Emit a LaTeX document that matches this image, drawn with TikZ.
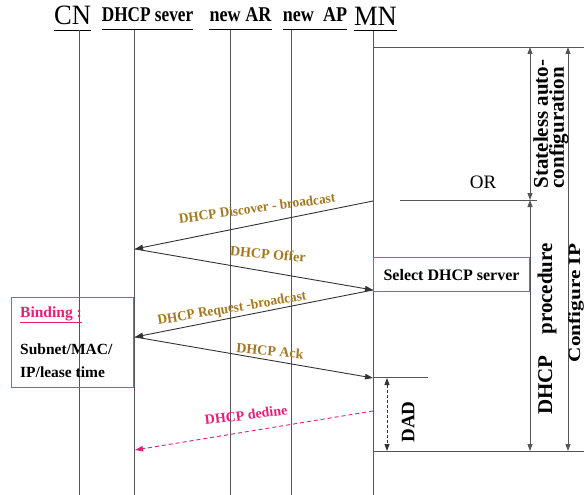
\documentclass[tikz,border=0pt]{standalone}
\usepackage{fontspec}
\setmainfont{Liberation Serif}[BoldFont={Liberation Serif Bold}]
\usepackage{graphicx}
\usetikzlibrary{arrows.meta,calc}

\definecolor{lblbrown}{RGB}{165,120,30}
\definecolor{hotpink}{RGB}{236,28,118}
\definecolor{boxpink}{RGB}{228,60,140}
\definecolor{lifegray}{RGB}{85,85,85}

% horizontally condensed text
\newcommand\squeeze[2]{\scalebox{#1}[1]{#2}}

\begin{document}
\begin{tikzpicture}[x=1pt,y=-1pt,
  lifeline/.style={draw=lifegray, line width=0.9pt},
  rule/.style={draw=lifegray, line width=0.9pt},
  msg/.style={draw=black!80, line width=0.9pt, -{Triangle[length=8pt,width=5.5pt]}},
  msglabel/.style={text=lblbrown, font=\fontsize{14}{15}\selectfont\bfseries, inner sep=0pt},
  header/.style={font=\fontsize{21}{22}\selectfont\bfseries, anchor=base, inner sep=0pt},
  bigheader/.style={font=\fontsize{28}{30}\selectfont, anchor=base, inner sep=0pt},
  vtext/.style={font=\fontsize{21}{16}\selectfont\bfseries, rotate=90, inner sep=0pt},
  pinkbox/.style={draw=boxpink, line width=1.1pt},
  span/.style={draw=lifegray, line width=0.9pt, {Triangle[length=7pt,width=5pt]}-{Triangle[length=7pt,width=5pt]}}
]
\useasboundingbox (0,0) rectangle (584,495);

% ---- headers ----
\node[bigheader] (cn)   at (72.5,25)  {\squeeze{0.95}{CN}};
\node[header]    (dhcp) at (147.5,22) {\squeeze{0.82}{DHCP sever}};
\node[header]    (ar)   at (240.5,22) {\squeeze{0.86}{new AR}};
\node[header]    (ap)   at (315,22)   {\squeeze{0.86}{new\ \ AP}};
\node[bigheader] (mn)   at (375.5,26) {\squeeze{0.95}{MN}};

\foreach \h/\d in {cn/5, dhcp/7.5, ar/7.5, ap/7.5, mn/4.5}
  \draw[line width=0.9pt] ($(\h.base west)+(0,\d)$) -- ($(\h.base east)+(0,\d)$);

% ---- lifelines ----
\coordinate (cnT) at (79,30);   \coordinate (cnB) at (79,495);
\coordinate (svT) at (134,30);  \coordinate (svB) at (134,495);
\coordinate (arT) at (230,30);  \coordinate (arB) at (230,495);
\coordinate (apT) at (291,30);  \coordinate (apB) at (291,495);
\coordinate (mnT) at (373,31);  \coordinate (mnB) at (373,495);
\foreach \l in {cn,sv,ar,ap,mn}
  \draw[lifeline] (\l T) -- (\l B);

% ---- right-hand brackets ----
\coordinate (topL) at (373,47);  \coordinate (topR) at (584,47);
\coordinate (botL) at (373,451); \coordinate (botR) at (584,451);
\coordinate (orL)  at (400,200); \coordinate (orR)  at (537,200);
\draw[rule] (topL) -- (topR);
\draw[rule] (botL) -- (botR);
\draw[rule] (orL) -- (orR);

\coordinate (slT) at (530,47);  \coordinate (slB) at (530,200);
\coordinate (dpT) at (530,200); \coordinate (dpB) at (530,451);
\coordinate (ciT) at (568,47);  \coordinate (ciB) at (568,451);
\draw[span] (slT) -- (slB);
\draw[span] (dpT) -- (dpB);
\draw[span] (ciT) -- (ciB);

\node[font=\fontsize{19}{21}\selectfont, inner sep=0pt] (or) at (483,182) {OR};
\node[vtext, align=left] (stateless) at (551,124) {Stateless auto-\\configuration};
\node[vtext] (dhcpproc) at (547,329) {DHCP\quad procedure};
\node[vtext, font=\fontsize{17}{19}\selectfont\bfseries] (confip) at (576,303) {\scalebox{1.25}[1]{Configure IP}};

% ---- boxes ----
\node[pinkbox, minimum width=156pt, minimum height=34pt, anchor=north west,
      font=\fontsize{16}{18}\selectfont\bfseries] (select) at (373,257) {Select DHCP server};

\node[pinkbox, minimum width=122pt, minimum height=90pt, anchor=north west] (binding) at (11,297) {};
\node[anchor=west, inner sep=0pt, text=hotpink, font=\fontsize{15.5}{17}\selectfont\bfseries]
  (bindtitle) at (20,315) {\underline{Binding :}};
\node[anchor=west, inner sep=0pt, align=left, font=\fontsize{15.5}{23}\selectfont\bfseries]
  (bindtext) at (20,361) {Subnet/MAC/\\IP/lease time};

% ---- messages ----
\coordinate (m1) at (373,201); \coordinate (s1) at (135,249);
\coordinate (m2) at (373,290); \coordinate (s2) at (135,337);
\coordinate (m3) at (373,378);
\coordinate (m4) at (373,411); \coordinate (s4) at (135,450);

\draw[msg] (m1) -- (s1);
\draw[msg] (s1) -- (m2);
\draw[msg] (m2) -- (s2);
\draw[msg] (s2) -- (m3);
\draw[msg, draw=hotpink, dashed, dash pattern=on 4pt off 3pt] (m4) -- (s4);

\node[msglabel, rotate=7.8]  (ldisc) at (257,208) {\squeeze{0.95}{DHCP Discover - broadcast}};
\node[msglabel, rotate=-5]   (loff)  at (268,254) {DHCP Offer};
\node[msglabel, rotate=9.4]  (lreq)  at (232,309) {\squeeze{0.95}{DHCP Request -broadcast}};
\node[msglabel, rotate=-5]   (lack)  at (270,351) {DHCP Ack};
\node[msglabel, rotate=7, text=hotpink] (ldec) at (246,415) {DHCP dedine};

% ---- duplicate address detection ----
\coordinate (dadL) at (373,377); \coordinate (dadR) at (428,377);
\draw[rule] (dadL) -- (dadR);
\coordinate (dadT) at (387,378); \coordinate (dadB) at (387,451);
\draw[span, dashed, dash pattern=on 3pt off 2pt, draw=black!80] (dadT) -- (dadB);
\node[vtext, font=\fontsize{19}{21}\selectfont\bfseries] (dad) at (408,422) {DAD};

\end{tikzpicture}
\end{document}
